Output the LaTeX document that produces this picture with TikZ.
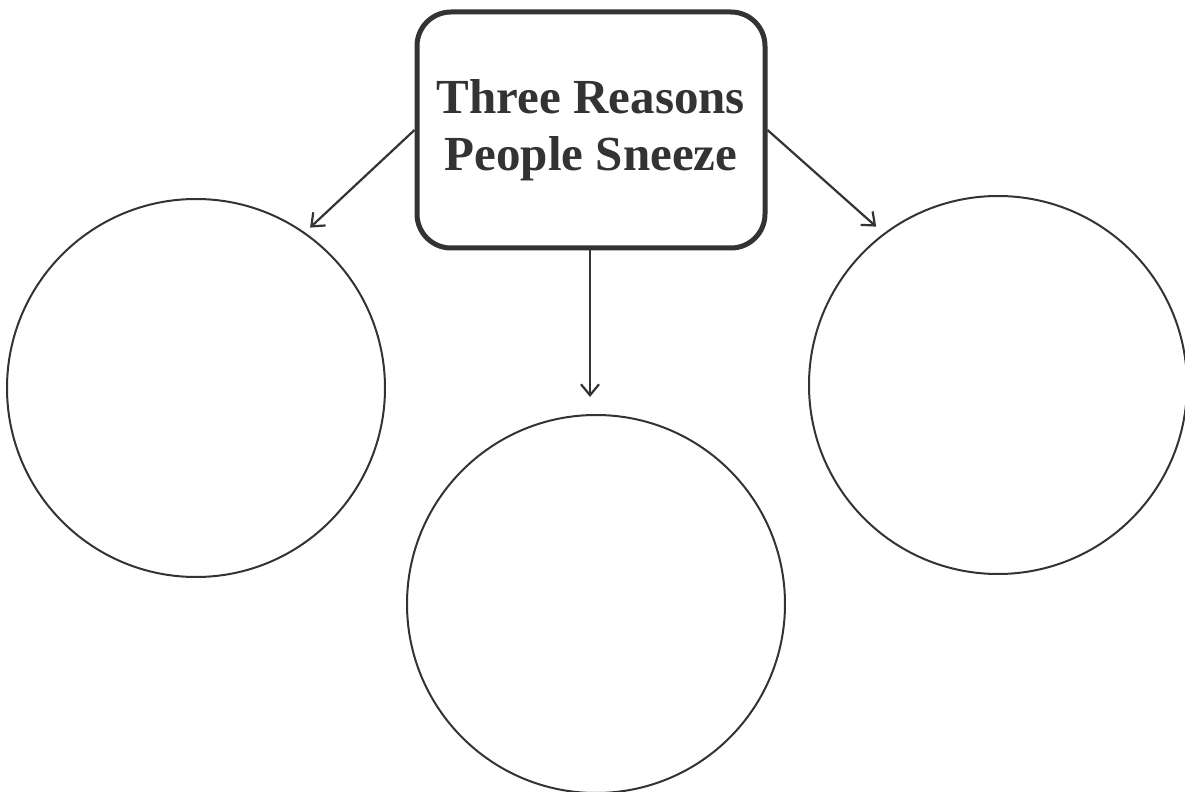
\documentclass[tikz,border=0pt]{standalone}
\usepackage{fontspec}
\setmainfont{Liberation Serif}
\usepackage{xcolor}
\usepackage{tikz}
\usetikzlibrary{shapes,arrows.meta}
\definecolor{inkgray}{HTML}{333333}
\tikzset{>={Straight Barb[length=5.5pt,width=9pt]}}

\begin{document}
\begin{tikzpicture}[x=0.5pt,y=-0.5pt,
roundednode/.style={rectangle, rounded corners=17pt, align=center, draw=inkgray, line width=2.5pt, minimum width=174pt, minimum height=118pt, inner sep=0pt, text=inkgray, font=\fontsize{24.5}{28.5}\selectfont\bfseries},
circlenode/.style={circle, draw=inkgray, line width=1pt, minimum size=189pt, inner sep=0pt},
]
\useasboundingbox (0,0) rectangle (1185,792);
%Nodes
\node[roundednode](Title) at (591,130){Three Reasons \\ People Sneeze};
\node[circlenode](Reason One) at (196,388){};
\node[circlenode](Reason Two) at (596,604){};
\node[circlenode](Reason Three) at (998,385){};

%Lines
\draw[->, draw=inkgray, line width=1.1pt, shorten >=3.5pt] (Title.west) -- (Reason One.55);
\draw[->, draw=inkgray, line width=1.1pt, shorten >=8.5pt] (Title.south -| 590,0) -- (Reason Two.north -| 590,0);
\draw[->, draw=inkgray, line width=1.1pt, shorten >=5pt] (Title.east) -- (Reason Three.127);
\end{tikzpicture}
\end{document}
